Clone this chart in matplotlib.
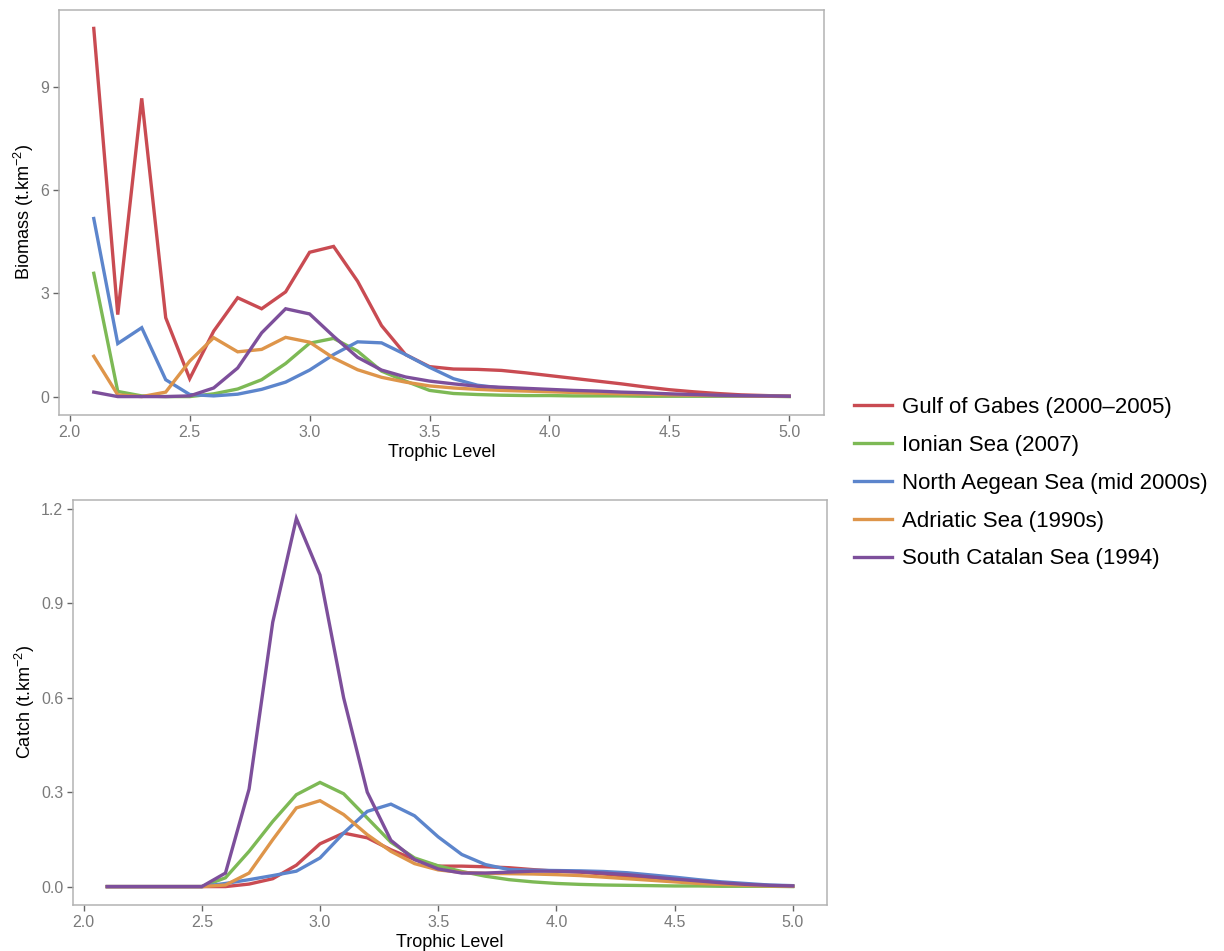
import matplotlib
matplotlib.use('Agg')
import matplotlib.pyplot as plt

plt.rcParams['font.family'] = ['Liberation Sans', 'DejaVu Sans']
plt.rcParams['mathtext.fontset'] = 'custom'
plt.rcParams['mathtext.rm'] = 'Liberation Sans'
plt.rcParams['mathtext.it'] = 'Liberation Sans'

# =============================================================================
# Data
# =============================================================================

trophic_level = [2.1, 2.2, 2.3, 2.4, 2.5, 2.6, 2.7, 2.8, 2.9, 3.0,
                 3.1, 3.2, 3.3, 3.4, 3.5, 3.6, 3.7, 3.8, 3.9, 4.0,
                 4.1, 4.2, 4.3, 4.4, 4.5, 4.6, 4.7, 4.8, 4.9, 5.0]

regions = ['Gulf of Gabes (2000\u20132005)', 'Ionian Sea (2007)',
           'North Aegean Sea (mid 2000s)', 'Adriatic Sea (1990s)',
           'South Catalan Sea (1994)']
colors = ['#C94B52', '#7DB955', '#5C85CC', '#DE954A', '#7D4F9B']

biomass_gabes = [10.69, 2.38, 8.66, 2.29, 0.52, 1.90, 2.87, 2.55, 3.04, 4.19,
                 4.36, 3.35, 2.06, 1.22, 0.87, 0.80, 0.79, 0.76, 0.69, 0.61,
                 0.53, 0.45, 0.37, 0.28, 0.20, 0.14, 0.09, 0.05, 0.03, 0.01]
biomass_ionian = [3.58, 0.15, 0.02, 0.00, 0.00, 0.08, 0.22, 0.49, 0.96, 1.55,
                  1.69, 1.32, 0.74, 0.45, 0.18, 0.09, 0.06, 0.04, 0.03, 0.03,
                  0.02, 0.02, 0.02, 0.01, 0.01, 0.01, 0.01, 0.01, 0.01, 0.00]
biomass_aegean = [5.17, 1.54, 2.00, 0.49, 0.06, 0.02, 0.07, 0.21, 0.42, 0.77,
                  1.22, 1.59, 1.56, 1.22, 0.85, 0.52, 0.33, 0.25, 0.21, 0.18,
                  0.15, 0.12, 0.10, 0.08, 0.06, 0.04, 0.03, 0.02, 0.01, 0.01]
biomass_adriatic = [1.17, 0.05, 0.00, 0.13, 1.03, 1.71, 1.30, 1.37, 1.72, 1.58,
                    1.12, 0.78, 0.56, 0.42, 0.31, 0.25, 0.21, 0.18, 0.16, 0.14,
                    0.12, 0.10, 0.08, 0.07, 0.05, 0.04, 0.03, 0.02, 0.01, 0.01]
biomass_catalan = [0.13, 0.00, 0.00, 0.00, 0.02, 0.25, 0.83, 1.85, 2.55, 2.40,
                   1.75, 1.14, 0.77, 0.57, 0.45, 0.37, 0.30, 0.27, 0.24, 0.21,
                   0.18, 0.16, 0.13, 0.11, 0.08, 0.06, 0.04, 0.03, 0.02, 0.01]

catch_gabes = [0, 0, 0, 0, 0, 0.0, 0.008, 0.025, 0.068, 0.136,
               0.170, 0.155, 0.117, 0.086, 0.065, 0.065, 0.063, 0.060, 0.054, 0.049,
               0.046, 0.040, 0.033, 0.026, 0.020, 0.014, 0.008, 0.005, 0.003, 0.001]
catch_ionian = [0, 0, 0, 0, 0, 0.028, 0.112, 0.207, 0.292, 0.331,
                0.295, 0.218, 0.141, 0.091, 0.066, 0.048, 0.033, 0.022, 0.015, 0.010,
                0.007, 0.005, 0.004, 0.003, 0.002, 0.002, 0.001, 0.001, 0.001, 0.0]
catch_aegean = [0, 0, 0, 0, 0, 0.010, 0.022, 0.035, 0.049, 0.091,
                0.170, 0.239, 0.262, 0.225, 0.158, 0.102, 0.070, 0.054, 0.052, 0.051,
                0.050, 0.048, 0.044, 0.037, 0.030, 0.022, 0.015, 0.010, 0.005, 0.003]
catch_adriatic = [0, 0, 0, 0, 0, 0.005, 0.043, 0.149, 0.250, 0.273,
                  0.229, 0.165, 0.112, 0.073, 0.053, 0.045, 0.042, 0.041, 0.040, 0.038,
                  0.035, 0.030, 0.025, 0.020, 0.015, 0.010, 0.007, 0.004, 0.002, 0.001]
catch_catalan = [0, 0, 0, 0, 0, 0.043, 0.310, 0.840, 1.170, 0.990,
                 0.600, 0.300, 0.147, 0.086, 0.056, 0.043, 0.043, 0.046, 0.049, 0.049,
                 0.047, 0.043, 0.038, 0.031, 0.024, 0.018, 0.012, 0.007, 0.004, 0.002]

biomass = [biomass_gabes, biomass_ionian, biomass_aegean, biomass_adriatic, biomass_catalan]
catch = [catch_gabes, catch_ionian, catch_aegean, catch_adriatic, catch_catalan]

x_ticks = [2.0, 2.5, 3.0, 3.5, 4.0, 4.5, 5.0]
biomass_ticks = [0, 3, 6, 9]
catch_ticks = [0.0, 0.3, 0.6, 0.9, 1.2]

# =============================================================================
# Figure
# =============================================================================

W, H = 1224, 951
fig = plt.figure(figsize=(W / 100, H / 100), dpi=100)


def box(l, t, r, b):
    return [l / W, 1 - b / H, (r - l) / W, (b - t) / H]


ax_b = fig.add_axes(box(59, 10, 824, 415))
ax_c = fig.add_axes(box(73, 500, 827, 905))

SPINE = '#B3B3B3'
TICK = '#7A7A7A'


def style(ax, yticks, yfmt, ylabel):
    for s in ax.spines.values():
        s.set_color(SPINE)
        s.set_linewidth(1.1)
    ax.set_xticks(x_ticks)
    ax.set_xticklabels([f'{v:.1f}' for v in x_ticks])
    ax.set_yticks(yticks)
    ax.set_yticklabels([yfmt.format(v) for v in yticks])
    ax.tick_params(direction='out', length=4, width=1.0, color='#666666',
                   labelcolor=TICK, labelsize=11.5, pad=3)
    ax.set_xlabel('Trophic Level', fontsize=13, labelpad=3)
    ax.set_ylabel(ylabel, fontsize=13, labelpad=3)
    ax.margins(x=0.05, y=0.05)


for vals, col, lab in zip(biomass, colors, regions):
    ax_b.plot(trophic_level, vals, color=col, lw=2.4, label=lab,
              solid_joinstyle='miter')
for vals, col, lab in zip(catch, colors, regions):
    ax_c.plot(trophic_level, vals, color=col, lw=2.4, label=lab,
              solid_joinstyle='miter')

style(ax_b, biomass_ticks, '{:d}', r'Biomass (t.km$^{-2}$)')
style(ax_c, catch_ticks, '{:.1f}', r'Catch (t.km$^{-2}$)')

handles, labels = ax_b.get_legend_handles_labels()
fig.legend(handles, labels, loc='upper left',
           bbox_to_anchor=(845 / W, 1 - 388 / H), frameon=False,
           fontsize=16, handlelength=1.7, handletextpad=0.45,
           labelspacing=0.76, borderaxespad=0)

fig.savefig('out.png', dpi=100)
